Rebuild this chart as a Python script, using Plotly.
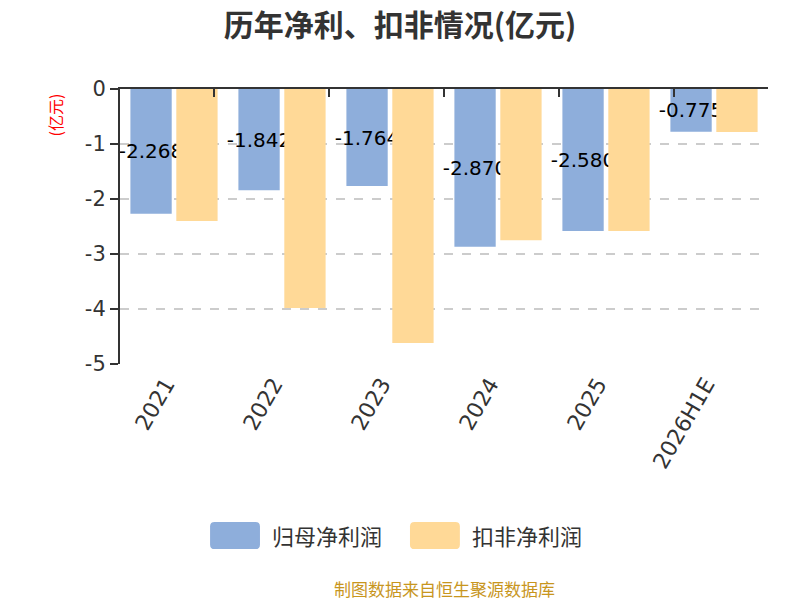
import plotly.graph_objects as go

years = ['2021', '2022', '2023', '2024', '2025', '2026H1E']
net_profit = [-2.268, -1.842, -1.764, -2.870, -2.580, -0.775]
deducted_profit = [-2.40, -3.98, -4.62, -2.75, -2.58, -0.78]
net_labels = ['-2.268', '-1.842', '-1.764', '-2.870', '-2.580', '-0.775']
y_ticks = [0, -1, -2, -3, -4, -5]
y_tick_labels = ['0', '-1', '-2', '-3', '-4', '-5']

series_names = ['归母净利润', '扣非净利润']
series_colors = ['#8EAEDB', '#FFD997']

cjk = 'Noto Sans CJK SC'
num = 'DejaVu Sans'


def rounded_rect(x0, y0, x1, y1, rx, ry):
    # rounded rectangle path in paper coordinates (legend swatch)
    return (f'M{x0 + rx},{y0} L{x1 - rx},{y0} Q{x1},{y0} {x1},{y0 + ry} '
            f'L{x1},{y1 - ry} Q{x1},{y1} {x1 - rx},{y1} L{x0 + rx},{y1} '
            f'Q{x0},{y1} {x0},{y1 - ry} L{x0},{y0 + ry} Q{x0},{y0} {x0 + rx},{y0} Z')


fig = go.Figure()

# 归母净利润 (labels sit mid-bar and get partly hidden by the next bar)
fig.add_trace(go.Bar(x=years, y=net_profit, name=series_names[0],
                     marker=dict(color=series_colors[0], line=dict(width=0)),
                     text=net_labels, textposition='inside', insidetextanchor='middle',
                     textangle=0, constraintext='none',
                     insidetextfont=dict(color='#000000', size=20, family=num)))

# 扣非净利润
fig.add_trace(go.Bar(x=years, y=deducted_profit, name=series_names[1],
                     marker=dict(color=series_colors[1], line=dict(width=0))))

# top axis carrying the zero line and boundary ticks
fig.add_trace(go.Scatter(x=years, y=[None] * len(years), xaxis='x2',
                         showlegend=False, hoverinfo='skip'))

# hand-made legend with big rounded swatches
shapes = []
annotations = []
legend_x = [0.139, 0.4475]
for i, name in enumerate(series_names):
    x0 = legend_x[i]
    shapes.append(dict(type='path', xref='paper', yref='paper',
                       path=rounded_rect(x0, -0.673, x0 + 0.077, -0.5745, 0.007, 0.016),
                       fillcolor=series_colors[i], line=dict(width=0)))
    annotations.append(dict(text=name, xref='paper', yref='paper', x=x0 + 0.092, y=-0.622,
                            xanchor='left', yanchor='middle', showarrow=False,
                            font=dict(size=22, color='#333333', family=cjk)))

annotations += [
    dict(text='(亿元)', xref='paper', yref='paper', x=-0.1, y=0.99,
         xanchor='center', yanchor='top', textangle=-90, showarrow=False,
         font=dict(size=16, color='#FF0000', family=cjk)),
    dict(text='制图数据来自恒生聚源数据库', xref='paper', yref='paper',
         x=0.5, y=-0.815, xanchor='center', yanchor='middle', showarrow=False,
         font=dict(size=17, color='#C8961E', family=cjk)),
]

fig.update_layout(
    width=800, height=600,
    paper_bgcolor='white', plot_bgcolor='white',
    font=dict(family=cjk, color='#333333'),
    title=dict(text='<b>历年净利、扣非情况(亿元)</b>', x=0.5, xanchor='center',
               yref='container', y=1 - 25 / 600, yanchor='middle',
               font=dict(size=30, color='#333333')),
    margin=dict(l=120, r=32, t=89, b=236),
    barmode='group', bargap=0.15, bargroupgap=0.1,
    showlegend=False,
    xaxis=dict(tickangle=-60, tickfont=dict(size=22, color='#333333', family=num),
               ticklabelshift=-8, ticklabelstandoff=2,
               showline=False, ticks='', showgrid=False, zeroline=False,
               automargin=False),
    xaxis2=dict(overlaying='x', side='top', anchor='y', showticklabels=False,
                showline=True, linecolor='#333333', linewidth=2,
                ticks='inside', ticklen=8, tickwidth=2, tickcolor='#333333',
                tickson='boundaries', showgrid=False, zeroline=False,
                categoryorder='array', categoryarray=years, automargin=False),
    yaxis=dict(range=[-5, 0], tickvals=y_ticks, ticktext=y_tick_labels,
               tickfont=dict(size=21, color='#333333', family=num),
               showline=True, linecolor='#333333', linewidth=2,
               ticks='outside', ticklen=8, tickwidth=2, tickcolor='#333333',
               showgrid=True, gridcolor='#CCCCCC', griddash='dash', gridwidth=1.5,
               zeroline=False, automargin=False),
    shapes=shapes,
    annotations=annotations,
)

# drop the default page margin so the figure fills the 800x600 window
fig.write_html('out.html', config={'displayModeBar': False},
               post_script="document.body.style.margin='0';")
